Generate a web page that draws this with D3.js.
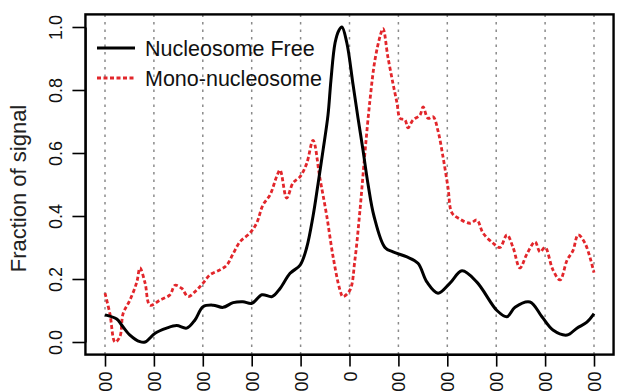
<!DOCTYPE html>
<html>
<head>
  <meta charset="utf-8">
  <script src="https://cdnjs.cloudflare.com/ajax/libs/d3/7.8.5/d3.min.js"></script>
  <style>
  body{ margin:0; background:#fff; }
  svg{ display:block; font-family:"Liberation Sans", Arial, sans-serif; }
  .grid line{ stroke:#8a8a8a; stroke-width:1.5; stroke-dasharray:2.5,5; }
  .axis path, .axis line{ stroke:#000; stroke-width:1.6; }
  .axis text{ font-size:18px; fill:#111; }
  </style>
</head>
<body>
  <svg width="630" height="392"></svg>
<script>
// positions (bp) relative to centre, and fraction of signal
var freePos = [-1000,-952,-932,-898,-857,-836,-795,-748,-707,-666,-632,-599,-558,-517,-476,-436,-399,-358,-317,-284,-243,-202,-175,-149,-129,-108,-88,-76,-59,-43,-31,-11,14,35,55,76,100,145,178,235,280,317,362,411,460,521,603,644,677,738,787,832,890,930,971,1000];
var freeVal = [0.086,0.073,0.054,0.022,0.001,0.0,0.028,0.044,0.052,0.044,0.07,0.112,0.117,0.11,0.125,0.128,0.123,0.15,0.144,0.17,0.218,0.244,0.30,0.40,0.50,0.61,0.72,0.83,0.95,0.99,1.0,0.95,0.82,0.71,0.61,0.50,0.40,0.30,0.286,0.27,0.25,0.19,0.155,0.187,0.226,0.19,0.10,0.08,0.11,0.127,0.08,0.038,0.022,0.044,0.063,0.09];

var monoPos = [-1000,-980,-959,-939,-926,-898,-870,-857,-836,-816,-775,-734,-714,-686,-660,-625,-599,-571,-530,-502,-476,-448,-407,-380,-354,-325,-298,-284,-257,-231,-202,-175,-149,-121,-93,-67,-39,-27,2,22,43,63,84,104,125,137,157,178,194,207,227,239,260,288,301,321,342,362,382,403,419,452,493,521,546,587,615,644,669,697,726,759,779,800,832,861,890,914,935,963,1000];
var monoVal = [0.155,0.09,0.0,0.017,0.09,0.133,0.19,0.235,0.187,0.117,0.133,0.15,0.18,0.17,0.144,0.165,0.187,0.213,0.229,0.244,0.28,0.318,0.346,0.377,0.435,0.467,0.525,0.546,0.457,0.505,0.525,0.567,0.64,0.52,0.40,0.27,0.165,0.144,0.165,0.26,0.42,0.60,0.77,0.895,0.97,0.995,0.905,0.82,0.76,0.71,0.705,0.68,0.705,0.72,0.746,0.71,0.715,0.67,0.59,0.49,0.41,0.39,0.377,0.387,0.346,0.314,0.30,0.34,0.30,0.235,0.28,0.318,0.286,0.30,0.229,0.197,0.26,0.29,0.34,0.314,0.22];

var xTicks = [-1000,-800,-600,-400,-200,0,200,400,600,800,1000];
var yTicks = [0,0.2,0.4,0.6,0.8,1.0];
var seriesNames = ["Nucleosome Free","Mono-nucleosome"];

(function (d3){
  'use strict';
  var svg = d3.select("svg");

  var x = d3.scaleLinear().domain([-1000,1000]).range([105,594]),
      y = d3.scaleLinear().domain([0,1]).range([342,27]);

  // box edges follow R's 4% padding
  var x0 = x(-1080), x1 = x(1080),
      y0 = y(-0.04), y1 = y(1.04);

  // dotted verticals at each x tick
  svg.append("g").attr("class","grid")
    .selectAll("line").data(xTicks).enter().append("line")
    .attr("x1",function(d){return x(d);}).attr("x2",function(d){return x(d);})
    .attr("y1",y1).attr("y2",y0);

  var line = d3.line()
    .x(function(d){return x(d[0]);})
    .y(function(d){return y(d[1]);})
    .curve(d3.curveCatmullRom.alpha(0.5));

  var mono = d3.zip(monoPos, monoVal),
      free = d3.zip(freePos, freeVal);

  svg.append("path").datum(mono)
    .attr("d", line)
    .attr("fill","none")
    .attr("stroke","#e2262b")
    .attr("stroke-width",2.8)
    .attr("stroke-dasharray","4,2.5");

  svg.append("path").datum(free)
    .attr("d", line)
    .attr("fill","none")
    .attr("stroke","#000")
    .attr("stroke-width",3)
    .attr("stroke-linejoin","round");

  // frame
  svg.append("rect")
    .attr("x",x0).attr("y",y1)
    .attr("width",x1-x0).attr("height",y0-y1)
    .attr("fill","none").attr("stroke","#000").attr("stroke-width",2.4);

  // y axis
  var gy = svg.append("g").attr("class","axis")
    .attr("transform","translate(" + x0 + ",0)")
    .call(d3.axisLeft(y).tickValues(yTicks).tickSize(13).tickSizeOuter(0)
      .tickFormat(d3.format(".1f")));
  gy.selectAll("text")
    .attr("x",null).attr("dy",null)
    .attr("text-anchor","middle")
    .attr("transform","translate(-23,0) rotate(-90)");

  // x axis, labels perpendicular like las=2
  var gx = svg.append("g").attr("class","axis")
    .attr("transform","translate(0," + y0 + ")")
    .call(d3.axisBottom(x).tickValues(xTicks).tickSize(12).tickSizeOuter(0)
      .tickFormat(d3.format("d")));
  gx.selectAll("text")
    .attr("y",null).attr("dy",null)
    .attr("text-anchor","end")
    .attr("transform","translate(6.5,17) rotate(-90)");

  // axis title
  svg.append("text")
    .attr("transform","translate(26," + ((y0+y1)/2 + 4) + ") rotate(-90)")
    .attr("text-anchor","middle")
    .style("font-size","22px")
    .attr("fill","#222")
    .text("Fraction of signal");

  // legend
  var leg = svg.append("g").attr("transform","translate(97,48)");
  var legItems = leg.selectAll("g").data(seriesNames).enter().append("g")
    .attr("transform",function(d,i){return "translate(0," + (i*30) + ")";});
  legItems.append("line")
    .attr("x1",0).attr("x2",38).attr("y1",0).attr("y2",0)
    .attr("stroke",function(d,i){return i ? "#e2262b" : "#000";})
    .attr("stroke-width",function(d,i){return i ? 2.8 : 3;})
    .attr("stroke-dasharray",function(d,i){return i ? "4,2.5" : null;});
  legItems.append("text")
    .attr("x",48).attr("dy","0.36em")
    .style("font-size","21.5px")
    .attr("fill","#111")
    .text(function(d){return d;});
})(window.d3);
</script>
</body>
</html>
